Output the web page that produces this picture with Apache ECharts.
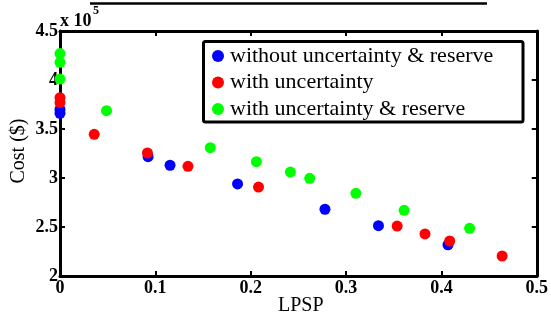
<!DOCTYPE html>
<html><head><meta charset="utf-8">
<script src="https://cdn.jsdelivr.net/npm/echarts@6/dist/echarts.min.js"></script>
<style>html,body{margin:0;padding:0;background:#fff}#c{width:551px;height:322px}</style>
</head><body><div id="c"></div>
<script>
var seriesNames = ['without uncertainty & reserve', 'with uncertainty', 'with uncertainty & reserve'];
var seriesColors = ['#0000ff', '#ff0000', '#00ff00'];
var blueX = [0, 0, 0.0924, 0.1154, 0.1862, 0.2779, 0.334, 0.4069];
var blueY = [3.66, 3.70, 3.217, 3.130, 2.939, 2.681, 2.513, 2.319];
var redX = [0, 0, 0.0359, 0.0917, 0.1342, 0.2082, 0.3536, 0.3828, 0.4087, 0.4637];
var redY = [3.82, 3.77, 3.446, 3.255, 3.119, 2.908, 2.510, 2.429, 2.357, 2.204];
var greenX = [0, 0, 0, 0.0488, 0.1576, 0.206, 0.2416, 0.2619, 0.3103, 0.3609, 0.4296];
var greenY = [4.27, 4.18, 4.01, 3.687, 3.309, 3.166, 3.061, 2.997, 2.844, 2.670, 2.487];
var xTicks = [0, 0.1, 0.2, 0.3, 0.4, 0.5];
var yTicks = [2, 2.5, 3, 3.5, 4, 4.5];

function pairs(xs, ys) { return xs.map(function (x, i) { return [x, ys[i]]; }); }
var allX = [blueX, redX, greenX], allY = [blueY, redY, greenY];

var serif = 'Liberation Serif, Times New Roman, serif';
var axisCommon = {
  axisLine: { show: true, onZero: false, lineStyle: { color: '#000', width: 3 } },
  axisTick: { show: true, inside: true, length: 5, lineStyle: { color: '#000', width: 2 } },
  splitLine: { show: false }
};
function xa(pos, labels) {
  return Object.assign({}, axisCommon, {
    type: 'value', position: pos, min: xTicks[0], max: xTicks[xTicks.length - 1], interval: 0.1,
    axisLabel: { show: labels, color: '#000', fontFamily: serif, fontWeight: 'bold', fontSize: 18, margin: 3 }
  });
}
function ya(pos, labels) {
  return Object.assign({}, axisCommon, {
    type: 'value', position: pos, min: yTicks[0], max: yTicks[yTicks.length - 1], interval: 0.5,
    axisLabel: { show: labels, color: '#000', fontFamily: serif, fontWeight: 'bold', fontSize: 18, margin: 2 }
  });
}

var chart = echarts.init(document.getElementById('c'), null, { renderer: 'canvas' });
chart.setOption({
  animation: false,
  backgroundColor: '#fff',
  grid: { left: 60, right: 13, top: 31, bottom: 46, containLabel: false },
  xAxis: [xa('bottom', true), xa('top', false)],
  yAxis: [ya('left', true), ya('right', false)],
  legend: {
    orient: 'vertical', left: 212, top: 45, padding: 0,
    itemWidth: 14, itemHeight: 12, itemGap: 4.5, icon: 'circle',
    textStyle: { fontFamily: serif, fontSize: 22, lineHeight: 22, color: '#000' },
    data: seriesNames
  },
  series: seriesNames.map(function (n, i) {
    return {
      name: n, type: 'scatter', symbol: 'circle', symbolSize: 11,
      itemStyle: { color: seriesColors[i], opacity: 1 },
      data: pairs(allX[i], allY[i]), z: 3 + i
    };
  }),
  graphic: [
    { type: 'rect', shape: { x: 203.5, y: 41.5, width: 319.5, height: 80.5, r: 2 }, style: { fill: 'transparent', stroke: '#000', lineWidth: 3 }, z: 10 },
    { type: 'line', shape: { x1: 90, y1: 3.5, x2: 487, y2: 3.5 }, style: { stroke: '#000', lineWidth: 2.5 } },
    { type: 'text', left: 60, top: 12, style: { text: 'x 10', font: 'bold 18px ' + serif, fill: '#000' } },
    { type: 'text', left: 93, top: 5, style: { text: '5', font: 'bold 12px ' + serif, fill: '#000' } },
    { type: 'text', left: 278, top: 296, style: { text: 'LPSP', font: '20px ' + serif, fill: '#000' } },
    { type: 'text', x: 19, y: 151, rotation: Math.PI / 2, style: { text: 'Cost ($)', font: '20px ' + serif, fill: '#000', textAlign: 'center', textVerticalAlign: 'middle' } }
  ]
});
</script></body></html>
